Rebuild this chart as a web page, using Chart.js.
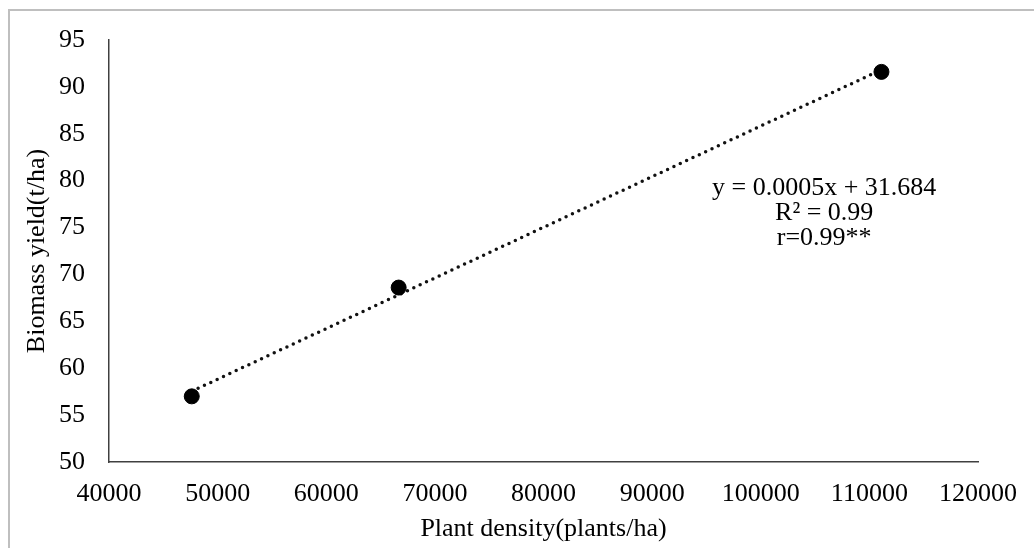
<!DOCTYPE html>
<html>
<head>
<meta charset="utf-8">
<script src="https://cdn.jsdelivr.net/npm/chart.js@4.4.0/dist/chart.umd.min.js"></script>
<style>
  html, body { margin: 0; padding: 0; background: #ffffff; }
  #wrap { width: 1034px; height: 548px; position: relative; }
</style>
</head>
<body>
<div id="wrap"><canvas id="myChart" width="1034" height="548"></canvas></div>
<script>
// Datos del gráfico
const plantDensity = [47619, 66667, 111111];
const biomassYield = [57.0, 68.6, 91.6];
const xTicks = [40000, 50000, 60000, 70000, 80000, 90000, 100000, 110000, 120000];
const yTicks = [50, 55, 60, 65, 70, 75, 80, 85, 90, 95];
const equationLines = ['y = 0.0005x + 31.684', 'R\u00B2 = 0.99', 'r=0.99**'];

const serif = 'Liberation Serif';

// Línea de tendencia (mínimos cuadrados sobre los datos)
const n = plantDensity.length;
const mx = plantDensity.reduce((a, b) => a + b, 0) / n;
const my = biomassYield.reduce((a, b) => a + b, 0) / n;
let sxy = 0, sxx = 0;
for (let i = 0; i < n; i++) {
  sxy += (plantDensity[i] - mx) * (biomassYield[i] - my);
  sxx += (plantDensity[i] - mx) * (plantDensity[i] - mx);
}
const slope = sxy / sxx;
const intercept = my - slope * mx;
const xMin = Math.min(...plantDensity);
const xMax = Math.max(...plantDensity);
const trend = [
  { x: xMin, y: slope * xMin + intercept },
  { x: xMax, y: slope * xMax + intercept }
];

// Marco gris y texto de la ecuación
const extras = {
  id: 'extras',
  beforeDraw(chart) {
    const c = chart.ctx;
    c.save();
    c.fillStyle = '#ffffff';
    c.fillRect(0, 0, chart.width, chart.height);
    c.strokeStyle = '#bfbfbf';
    c.lineWidth = 2;
    c.beginPath();
    c.moveTo(9, chart.height);
    c.lineTo(9, 10);
    c.lineTo(chart.width, 10);
    c.stroke();
    c.restore();
  },
  afterDatasetsDraw(chart) {
    const c = chart.ctx;
    const a = chart.chartArea;
    c.save();
    c.font = '26px "' + serif + '"';
    c.fillStyle = '#000000';
    c.textAlign = 'center';
    c.textBaseline = 'middle';
    const cx = a.left + (a.right - a.left) * 0.823;
    equationLines.forEach((t, i) => {
      c.fillText(t, cx, a.top + 148 + i * 25);
    });
    c.restore();
  }
};

const ctx = document.getElementById('myChart').getContext('2d');
const chart = new Chart(ctx, {
  type: 'scatter',
  data: {
    datasets: [
      {
        label: 'Biomass yield',
        data: plantDensity.map((x, i) => ({ x: x, y: biomassYield[i] })),
        backgroundColor: '#000000',
        borderColor: '#000000',
        pointRadius: 7.5,
        pointHoverRadius: 7.5,
        order: 1
      },
      {
        type: 'line',
        label: 'Linear',
        data: trend,
        borderColor: '#111111',
        borderWidth: 3.5,
        borderDash: [0, 7],
        borderCapStyle: 'round',
        pointRadius: 0,
        fill: false,
        order: 2
      }
    ]
  },
  options: {
    responsive: false,
    animation: false,
    layout: { padding: { top: 40, right: 56, bottom: 0, left: 10 } },
    plugins: {
      legend: { display: false },
      tooltip: { enabled: false }
    },
    scales: {
      x: {
        type: 'linear',
        min: 40000,
        max: 120000,
        afterBuildTicks: (s) => { s.ticks = xTicks.map(v => ({ value: v })); },
        afterFit: (s) => { s.height = 86; },
        grid: { display: false, drawTicks: false },
        border: { display: true, color: '#404040', width: 1.5 },
        ticks: {
          padding: 17,
          color: '#000000',
          font: { family: serif, size: 26 },
          maxRotation: 0,
          callback: (v) => String(v)
        },
        title: {
          display: true,
          text: 'Plant density(plants/ha)',
          color: '#000000',
          font: { family: serif, size: 26 },
          padding: { top: 0, bottom: 3 }
        }
      },
      y: {
        type: 'linear',
        min: 50,
        max: 95,
        afterBuildTicks: (s) => { s.ticks = yTicks.map(v => ({ value: v })); },
        afterFit: (s) => { s.width = 99; },
        grid: { display: false, drawTicks: false },
        border: { display: true, color: '#404040', width: 1.5 },
        ticks: {
          padding: 24,
          color: '#000000',
          font: { family: serif, size: 26 },
          callback: (v) => String(v)
        },
        title: {
          display: true,
          text: 'Biomass yield(t/ha)',
          color: '#000000',
          font: { family: serif, size: 26 },
          padding: { top: 12, bottom: 0 }
        }
      }
    }
  },
  plugins: [extras]
});
</script>
</body>
</html>
